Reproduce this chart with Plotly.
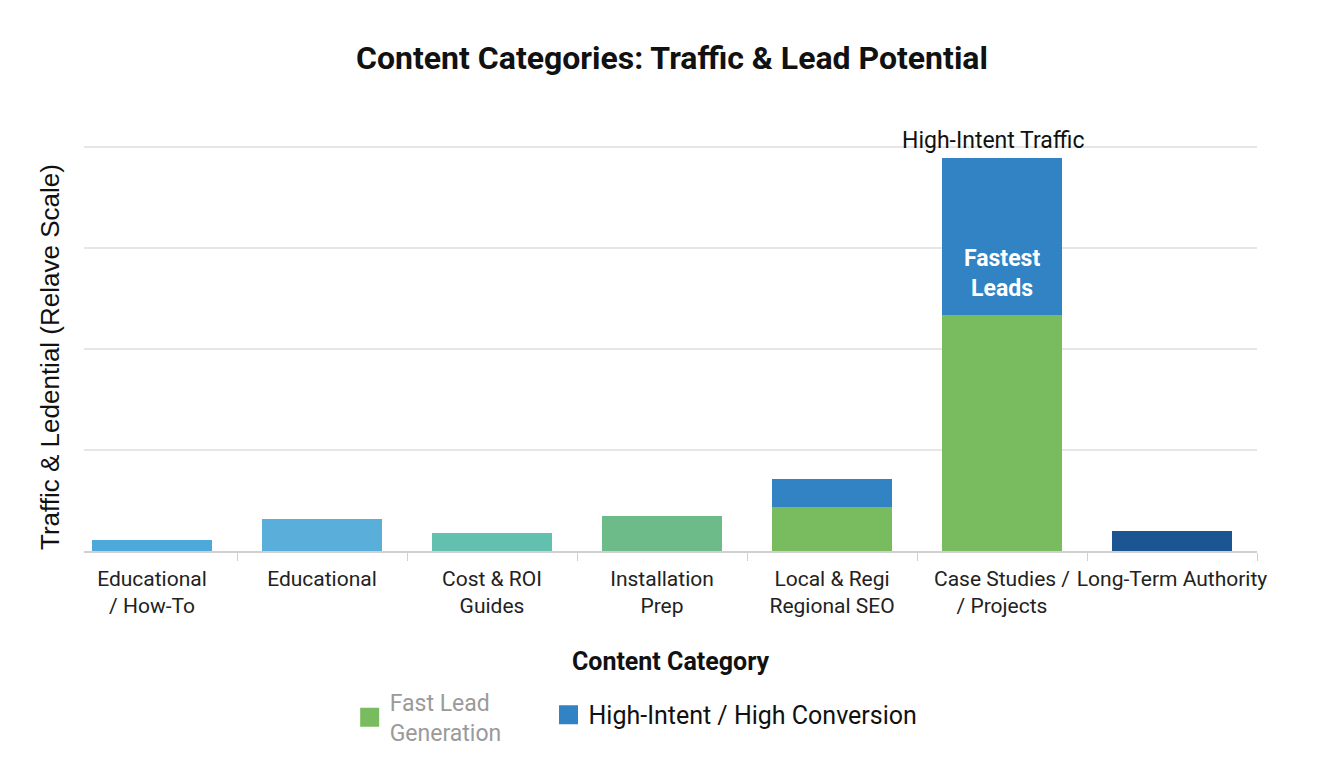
import plotly.graph_objects as go

categories = ["Educational<br>/ How-To", "Educational", "Cost & ROI<br>Guides", "Installation<br>Prep",
              "Local & Regi<br>Regional SEO", "Case Studies /<br>/ Projects", "Long-Term Authority"]
base_values = [0.11, 0.32, 0.18, 0.35, 0.44, 2.34, 0.20]
intent_values = [0, 0, 0, 0, 0.27, 1.55, 0]
base_colors = ["#4da9d9", "#5aafda", "#63bfae", "#6dbb88", "#79bc5f", "#79bc5f", "#1b5592"]
intent_color = "#3183c4"
green_color = "#79bc5f"

fig = go.Figure()
fig.add_trace(go.Bar(x=categories, y=base_values, marker=dict(color=base_colors, line=dict(width=0)),
                     width=0.71, showlegend=False, name="Fast Lead Generation"))
fig.add_trace(go.Bar(x=categories, y=intent_values, marker=dict(color=intent_color, line=dict(width=0)),
                     width=0.71, showlegend=False, name="High-Intent / High Conversion"))
# legend entries
fig.add_trace(go.Scatter(x=[None], y=[None], mode="markers", legend="legend",
                         marker=dict(symbol="square", size=16, color=green_color,
                                     line=dict(width=3, color=green_color)),
                         name="Fast Lead<br>Generation"))
fig.add_trace(go.Scatter(x=[None], y=[None], mode="markers", legend="legend2",
                         marker=dict(symbol="square", size=16, color=intent_color,
                                     line=dict(width=3, color=intent_color)),
                         name="High-Intent / High Conversion"))

fig.update_layout(
    width=1344, height=768,
    barmode="stack",
    plot_bgcolor="white", paper_bgcolor="white",
    margin=dict(l=84, r=87, t=140, b=217),
    font=dict(family="Roboto", color="#222"),
    title=dict(text="<b>Content Categories: Traffic & Lead Potential</b>",
               x=0.5, xanchor="center", y=1 - 58 / 768, yanchor="middle", yref="container",
               font=dict(size=32, color="#111", family="Roboto")),
    xaxis=dict(type="category", range=[-0.4, 6.5], showgrid=False,
               showline=True, linecolor="#d0d0d0", linewidth=1.5,
               ticks="outside", tickson="boundaries", ticklen=8, tickcolor="#d0d0d0",
               tickangle=0, automargin=False, ticklabelstandoff=8,
               tickfont=dict(size=21, color="#222"),
               title=dict(text="<b>Content Category</b>", font=dict(size=25, color="#111"), standoff=35)),
    yaxis=dict(range=[0, 4.07], tickvals=[1, 2, 3, 4], showticklabels=False,
               showgrid=True, gridcolor="#e6e6e6", gridwidth=1.5, zeroline=False),
    legend=dict(x=0.2265, xanchor="left", y=-0.405, yanchor="middle", valign="middle",
                font=dict(size=23, color="#9a9a9a"), bgcolor="rgba(0,0,0,0)"),
    legend2=dict(x=0.396, xanchor="left", y=-0.399, yanchor="middle", valign="middle",
                 font=dict(size=25, color="#111"), bgcolor="rgba(0,0,0,0)"),
    annotations=[
        dict(xref="paper", yref="paper", x=-0.029, y=0.472, textangle=-90,
             text="Traffic & Ledential (Relave Scale)", showarrow=False,
             font=dict(size=26, color="#111", family="Liberation Sans"),
             xanchor="center", yanchor="middle"),
        dict(x=categories[5], y=base_values[5] + intent_values[5], yshift=18, xshift=-9,
             text="High-Intent Traffic",
             showarrow=False, font=dict(size=23, color="#111"), xanchor="center", yanchor="middle"),
        dict(x=categories[5], y=2.75, text="<b>Fastest<br>Leads</b>", showarrow=False,
             font=dict(size=23, color="white"), xanchor="center", yanchor="middle"),
    ],
)

fig.write_html("out.html")
